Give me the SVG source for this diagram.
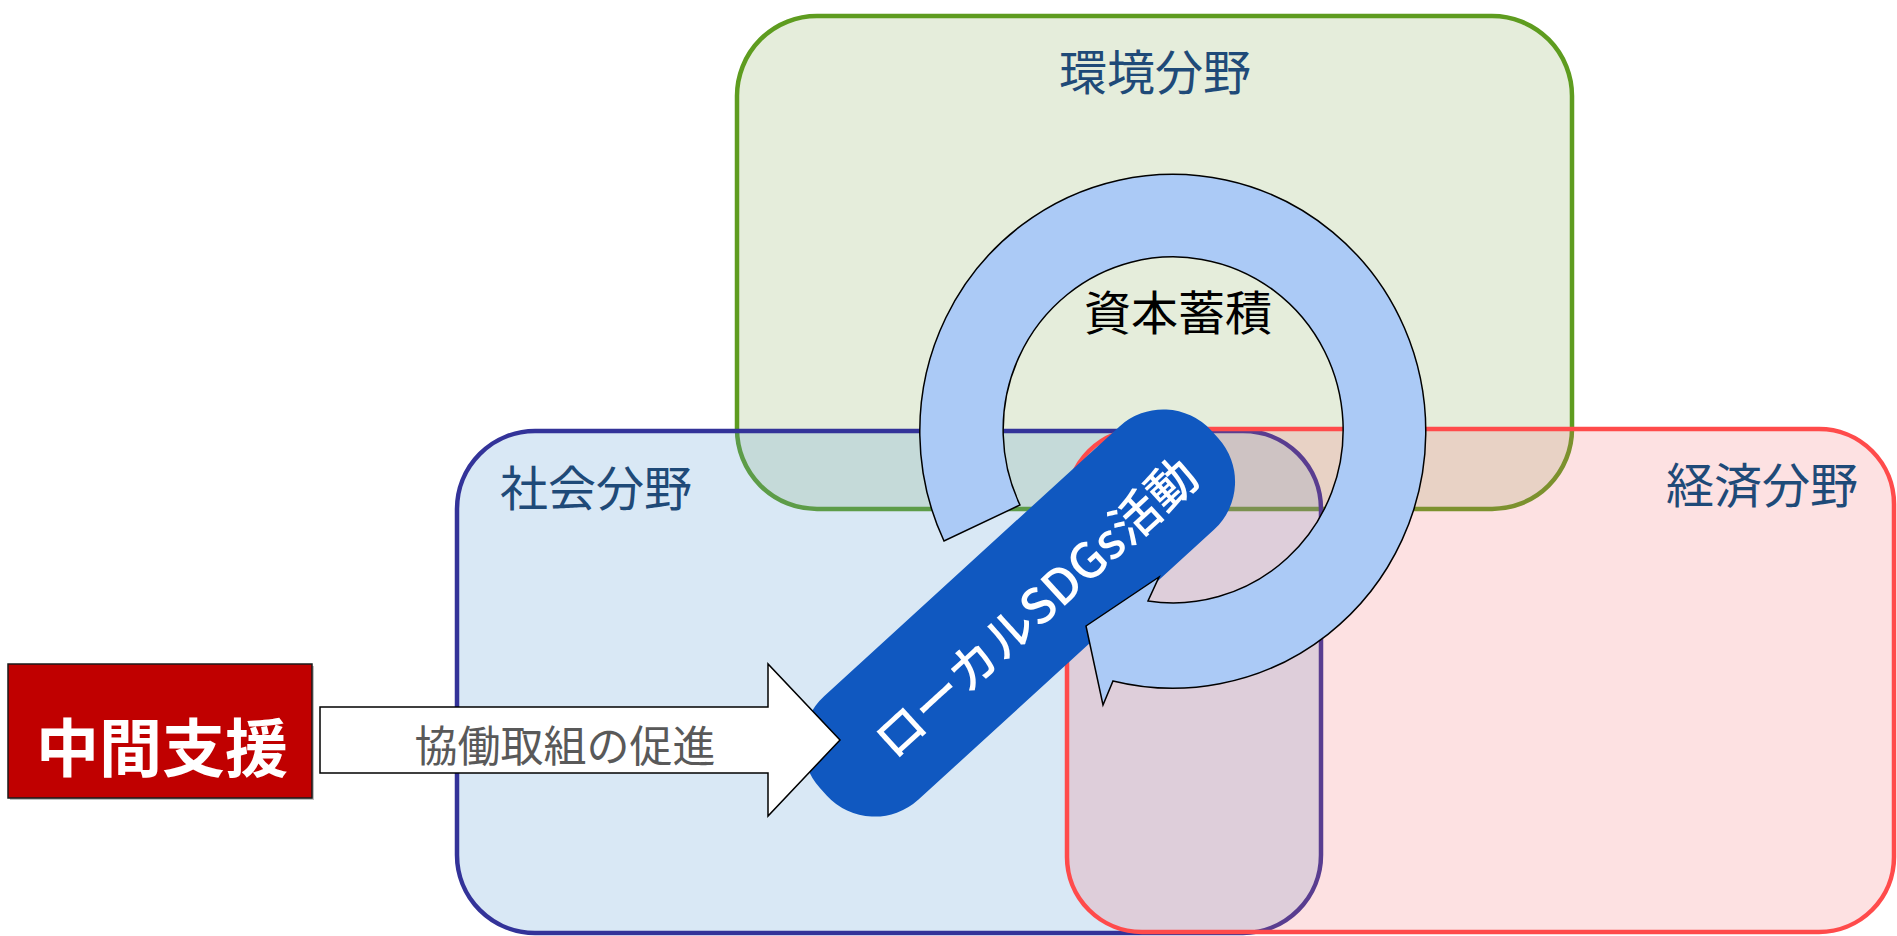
<svg xmlns="http://www.w3.org/2000/svg" width="1897" height="936" viewBox="0 0 1897 936">
<style>
.lbl{font-family:"Noto Sans CJK JP","Noto Sans CJK SC",sans-serif;font-size:48px;fill:#1f4a78}
.area{stroke-width:4.5}
</style>
<rect width="1897" height="936" fill="#ffffff"/>
<g id="env">
<rect class="area" x="737" y="16" width="835" height="493" rx="80" fill="#e5eddb" stroke="#5e9c1f"/>
<text class="lbl" x="1155" y="89.5" text-anchor="middle">環境分野</text>
</g>
<g id="social">
<rect class="area" x="457" y="431" width="864" height="502" rx="78" fill="#5b9bd5" fill-opacity="0.23" stroke="#333399"/>
<text class="lbl" x="500" y="505.5">社会分野</text>
</g>
<g id="economy">
<rect class="area" x="1067" y="429" width="827" height="503" rx="75" fill="#f5696e" fill-opacity="0.2" stroke="#ff4b4b"/>
<text class="lbl" x="1666" y="502.5">経済分野</text>
</g>
<g id="local-sdgs" transform="translate(1019 613) rotate(-42.4)">
<rect x="-265" y="-70" width="530" height="140" rx="65" fill="#1058c0"/>
<text x="16" y="4" text-anchor="middle" dominant-baseline="central" font-family="'Noto Sans CJK JP','Noto Sans CJK SC',sans-serif" font-size="49" font-weight="500" fill="#ffffff">ローカルSDGs活動</text>
</g>
<g id="capital">
<path d="M944 541 A253 257 0 1 1 1113 681 L1103 705 L1086 626 L1159 577 L1148 601 A170 173 0 1 0 1020 505 Z" fill="#abcaf6" stroke="#000000" stroke-width="1.5" stroke-linejoin="miter"/>
<text x="1178" y="330" text-anchor="middle" font-family="'Noto Sans CJK JP','Noto Sans CJK SC',sans-serif" font-size="47" fill="#000000">資本蓄積</text>
</g>
<g id="connectors">
<path d="M320 707 L768 707 L768 664 L840 740 L768 816 L768 773 L320 773 Z" fill="#ffffff" stroke="#000000" stroke-width="1.5"/>
<text x="565" y="761.5" text-anchor="middle" font-family="'Noto Sans CJK JP','Noto Sans CJK SC',sans-serif" font-size="43" fill="#595959">協働取組の促進</text>
</g>
<g id="support">
<rect x="10" y="666" width="304" height="134" fill="#7f7f7f" opacity="0.5"/>
<rect x="8" y="664" width="304" height="134" fill="#c00000" stroke="#1a1a1a" stroke-width="1.5"/>
<text x="162" y="770.5" text-anchor="middle" font-family="'Noto Sans CJK JP','Noto Sans CJK SC',sans-serif" font-size="63" font-weight="bold" fill="#ffffff">中間支援</text>
</g>
</svg>
